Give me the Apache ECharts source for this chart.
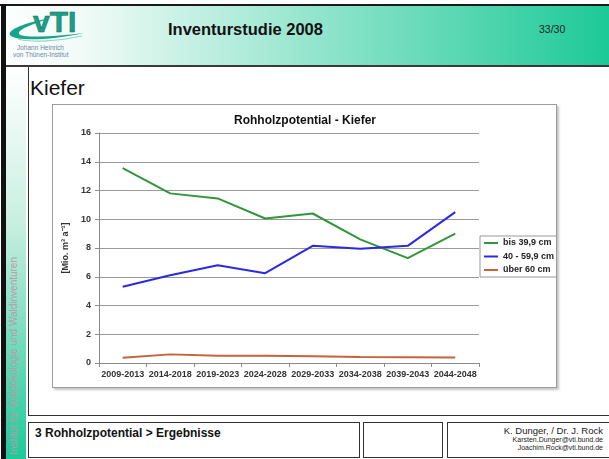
<!DOCTYPE html>
<html>
<head>
<meta charset="utf-8">
<script src="https://cdn.jsdelivr.net/npm/echarts@6/dist/echarts.min.js"></script>
<style>
  body { margin: 0; width: 609px; height: 459px; overflow: hidden; background: #fff;
         font-family: "Liberation Sans", Arial, sans-serif; position: relative; }
  .abs { position: absolute; }
  #topline { left: 0; top: 4px; width: 609px; height: 2px; background: #1a1a1a; }
  #leftbar { left: 1px; top: 4px; width: 5px; height: 455px; background: #111; }
  #header { left: 6px; top: 6px; width: 603px; height: 59px;
            background: linear-gradient(to right, #fbfefd 0%, #f2fbf7 12%, #1dc998 100%);
            border-bottom: 2px solid #3a3a3a; }
  #strip { left: 6px; top: 67px; width: 20px; height: 392px;
           background: linear-gradient(to bottom, #ffffff 0%, #c8efe0 40%, #1fc999 100%); }
  #vtext { left: 8px; bottom: 4px; writing-mode: vertical-rl; transform: rotate(180deg);
           font-size: 10px; color: #bd97ab; white-space: nowrap; }
  #title { left: 168px; top: 20px; font-size: 16.5px; font-weight: bold; color: #111; }
  #page { left: 539px; top: 23px; font-size: 10.5px; color: #222; }
  #content { left: 28px; top: 67px; width: 600px; height: 348px;
             border-left: 1.5px solid #333; border-bottom: 1.5px solid #333; }
  #kiefer { left: 30px; top: 76px; font-size: 21px; color: #111; }
  #chart { left: 52px; top: 104px; width: 505px; height: 284px;
           border: 1px solid #9c9c9c; box-shadow: 2px 2px 2px #c4c4c4; box-sizing: border-box; }
  .fbox { top: 422px; height: 36px; border: 1.5px solid #333; box-sizing: border-box; }
  #f1 { left: 28px; width: 332px; }
  #f2 { left: 363px; width: 80px; }
  #f3 { left: 447px; width: 170px; }
  #ftext { left: 35px; top: 426px; font-size: 12px; font-weight: bold; color: #111; }
  #authors { right: 6px; top: 425px; text-align: right; color: #222; }
  #authors .a { font-size: 9.5px; line-height: 11px; }
  #authors .m { font-size: 7px; line-height: 8px; }
  #logo { left: 4px; top: 6px; }
</style>
</head>
<body>
<div class="abs" id="header"></div>
<div class="abs" id="topline"></div>
<div class="abs" id="strip"></div>
<div class="abs" id="leftbar"></div>
<div class="abs" id="vtext">Institut für Waldökologie und Waldinventuren</div>
<svg class="abs" id="logo" width="90" height="56">
  <path d="M44,13 C22,16 3,24 6,29 C9,35 45,35 80,27 C50,31 18,32 15,28 C13,24 28,18 44,13 Z" fill="#17a58a"/>
  <path d="M14,33 C28,37 55,35 78,30" stroke="#8fd6c6" stroke-width="1.2" fill="none"/>
  <text x="29" y="26" font-family="Liberation Sans, Arial" font-weight="bold" font-size="30" fill="#1a9f88" stroke="#0f6f60" stroke-width="0.6">vTI</text>
  <text x="13" y="44" font-family="Liberation Sans, Arial" font-size="6.5" fill="#6f86a8">Johann Heinrich</text>
  <text x="9" y="51" font-family="Liberation Sans, Arial" font-size="6.5" fill="#6f86a8">von Thünen-Institut</text>
</svg>
<div class="abs" id="title">Inventurstudie 2008</div>
<div class="abs" id="page">33/30</div>
<div class="abs" id="content"></div>
<div class="abs" id="kiefer">Kiefer</div>
<div class="abs" id="chart"></div>
<div class="abs fbox" id="f1"></div>
<div class="abs fbox" id="f2"></div>
<div class="abs fbox" id="f3"></div>
<div class="abs" id="ftext">3 Rohholzpotential &gt; Ergebnisse</div>
<div class="abs" id="authors">
  <div class="a">K. Dunger, / Dr. J. Rock</div>
  <div class="m">Karsten.Dunger@vti.bund.de</div>
  <div class="m">Joachim.Rock@vti.bund.de</div>
</div>
<script>
// Zeiträume (x-Achse)
var categories = ['2009-2013', '2014-2018', '2019-2023', '2024-2028', '2029-2033', '2034-2038', '2039-2043', '2044-2048']
var seriesNames = ['bis 39,9 cm', '40 - 59,9 cm', 'über 60 cm']
// Rohholzpotential [Mio. m³ a⁻¹]
var bis40 = [13.55, 11.8, 11.45, 10.05, 10.4, 8.6, 7.3, 9.0]
var von40bis60 = [5.3, 6.1, 6.8, 6.25, 8.15, 7.95, 8.15, 10.5]
var ueber60 = [0.37, 0.6, 0.5, 0.5, 0.47, 0.42, 0.4, 0.38]
var yTicks = [0, 2, 4, 6, 8, 10, 12, 14, 16]

var chart = echarts.init(document.getElementById('chart'))
var font = '"Liberation Sans", Arial, sans-serif'

function lineSeries (name, data, color) {
  return {
    name: name,
    type: 'line',
    data: data,
    showSymbol: false,
    symbol: 'none',
    lineStyle: { color: color, width: 2 },
    itemStyle: { color: color }
  }
}

chart.setOption({
  animation: false,
  textStyle: { fontFamily: font },
  title: {
    text: 'Rohholzpotential - Kiefer',
    left: 181,
    top: 10,
    padding: 0,
    textStyle: { fontSize: 12, fontWeight: 'bold', color: '#111', fontFamily: font }
  },
  legend: {
    data: seriesNames,
    orient: 'vertical',
    left: 427,
    top: 131,
    icon: 'rect',
    itemWidth: 14,
    itemHeight: 2,
    itemGap: 3.5,
    itemTextGap: 2,
    padding: [2, 6, 2, 4],
    borderColor: '#999',
    borderWidth: 1,
    backgroundColor: '#fff',
    textStyle: { fontSize: 9, fontWeight: 'bold', color: '#222', lineHeight: 10, fontFamily: font }
  },
  grid: { left: 41, top: 28, width: 385, height: 230, containLabel: false },
  xAxis: {
    type: 'category',
    data: categories,
    boundaryGap: true,
    axisLine: { lineStyle: { color: '#8a8a8a', width: 1 } },
    axisTick: { show: true, length: 4, lineStyle: { color: '#8a8a8a' } },
    axisLabel: { interval: 0, fontSize: 9, fontWeight: 'bold', color: '#333', margin: 7 }
  },
  yAxis: {
    type: 'value',
    min: yTicks[0],
    max: yTicks[yTicks.length - 1],
    interval: 2,
    name: '[Mio. m³ a⁻¹]',
    nameLocation: 'middle',
    nameRotate: 90,
    nameGap: 26,
    nameTextStyle: { fontSize: 9, fontWeight: 'bold', color: '#333' },
    axisLine: { show: true, lineStyle: { color: '#8a8a8a', width: 1 } },
    axisTick: { show: true, length: 4, lineStyle: { color: '#8a8a8a' } },
    axisLabel: { fontSize: 9, fontWeight: 'bold', color: '#333', margin: 8 },
    splitLine: { show: true, lineStyle: { color: '#9a9a9a', width: 1 } }
  },
  series: [
    lineSeries(seriesNames[0], bis40, '#33963a'),
    lineSeries(seriesNames[1], von40bis60, '#2a2ae0'),
    lineSeries(seriesNames[2], ueber60, '#c4643a')
  ]
})
</script>
</body>
</html>
